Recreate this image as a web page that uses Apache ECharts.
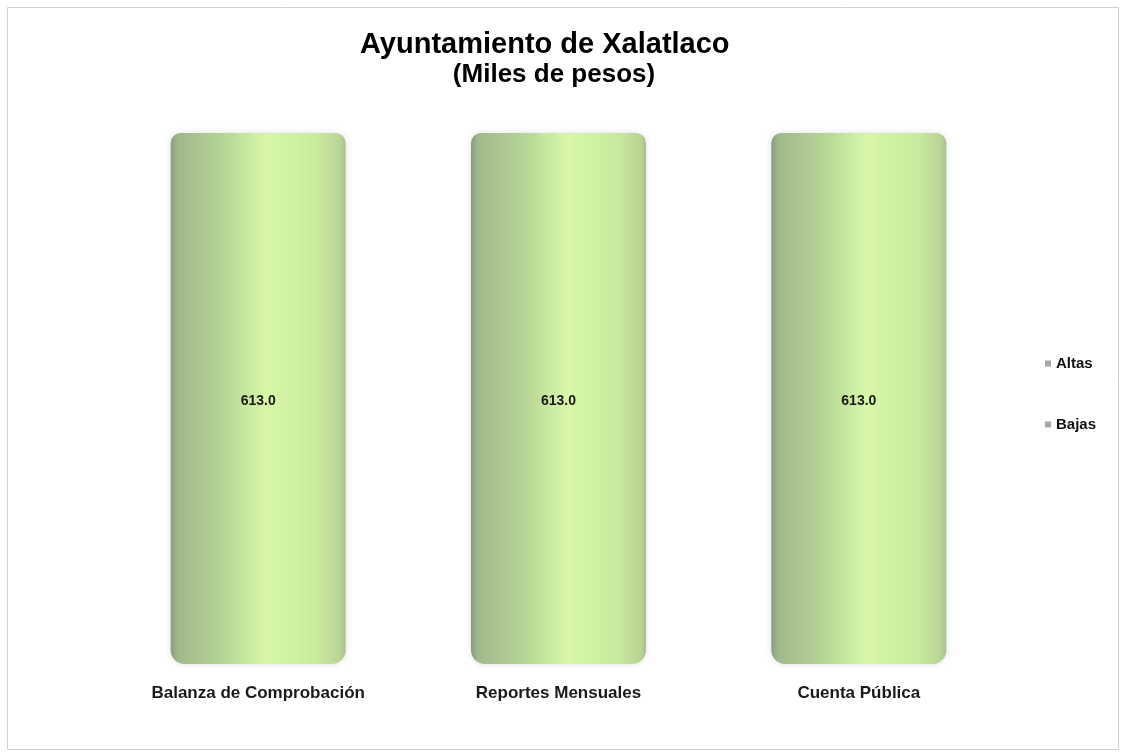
<!DOCTYPE html>
<html>
<head>
<meta charset="utf-8">
<script src="https://cdn.jsdelivr.net/npm/echarts@6/dist/echarts.min.js"></script>
<style>
html,body{margin:0;padding:0;background:#fff;}
#chart{width:1125px;height:753px;}
</style>
</head>
<body>
<div id="chart"></div>
<script>
const categories = ["Balanza de Comprobación", "Reportes Mensuales", "Cuenta Pública"];
const altasValues = [613.0, 613.0, 613.0];
const bajasValues = [0, 0, 0];
const seriesNames = ["Altas", "Bajas"];
const titleText = "Ayuntamiento de Xalatlaco";
const subtitleText = "(Miles de pesos)";

const chart = echarts.init(document.getElementById('chart'), null, {renderer: 'canvas'});
const font = '"Liberation Sans", Arial, sans-serif';
const barGradient = new echarts.graphic.LinearGradient(0, 0, 1, 0, [
  {offset: 0, color: '#8a9a7e'},
  {offset: 0.04, color: '#a0b98c'},
  {offset: 0.3, color: '#b6d494'},
  {offset: 0.55, color: '#d8f8a8'},
  {offset: 0.85, color: '#c8e89c'},
  {offset: 0.97, color: '#b8d494'},
  {offset: 1, color: '#a8c090'}
]);

chart.setOption({
  backgroundColor: '#ffffff',
  animation: false,
  graphic: [
    {type: 'rect', shape: {x: 7.5, y: 7.5, width: 1111, height: 742}, style: {fill: 'none', stroke: '#d0d0d0', lineWidth: 1}, z: 0},
    {type: 'text', x: 360, y: 45, style: {text: titleText, font: 'bold 29px ' + font, fill: '#000', align: 'left', verticalAlign: 'middle'}},
    {type: 'text', x: 554, y: 75, style: {text: subtitleText, font: 'bold 26px ' + font, fill: '#000', align: 'center', verticalAlign: 'middle'}}
  ],
  legend: {
    orient: 'vertical',
    left: 1040,
    top: 351,
    itemGap: 46,
    itemWidth: 6,
    itemHeight: 6,
    icon: 'rect',
    data: [
      {name: seriesNames[0], itemStyle: {color: '#a8a8a8'}},
      {name: seriesNames[1], itemStyle: {color: '#a8a8a8'}}
    ],
    textStyle: {fontFamily: font, fontSize: 15, fontWeight: 'bold', color: '#111', padding: [0,0,0,0]}
  },
  grid: {left: 108, right: 116, top: 133, bottom: 89, containLabel: false},
  xAxis: {
    type: 'category',
    data: categories,
    axisLine: {show: false},
    axisTick: {show: false},
    axisLabel: {fontFamily: font, fontSize: 17, fontWeight: 'bold', color: '#1a1a1a', margin: 21}
  },
  yAxis: {
    type: 'value',
    min: 0,
    max: 613,
    show: false,
    splitLine: {show: false}
  },
  series: [
    {
      name: seriesNames[0],
      type: 'bar',
      stack: 'total',
      data: altasValues,
      barWidth: 175,
      itemStyle: {color: barGradient, borderRadius: [10, 10, 14, 14], shadowColor: 'rgba(0,0,0,0.12)', shadowBlur: 6},
      label: {show: true, position: 'inside', offset: [0, 3], formatter: p => p.value.toFixed(1), fontFamily: font, fontSize: 14, fontWeight: 'bold', color: '#1a1a1a'}
    },
    {
      name: seriesNames[1],
      type: 'bar',
      stack: 'total',
      data: bajasValues,
      barWidth: 175,
      itemStyle: {color: '#c0504d'},
      label: {show: false}
    }
  ]
});
</script>
</body>
</html>
